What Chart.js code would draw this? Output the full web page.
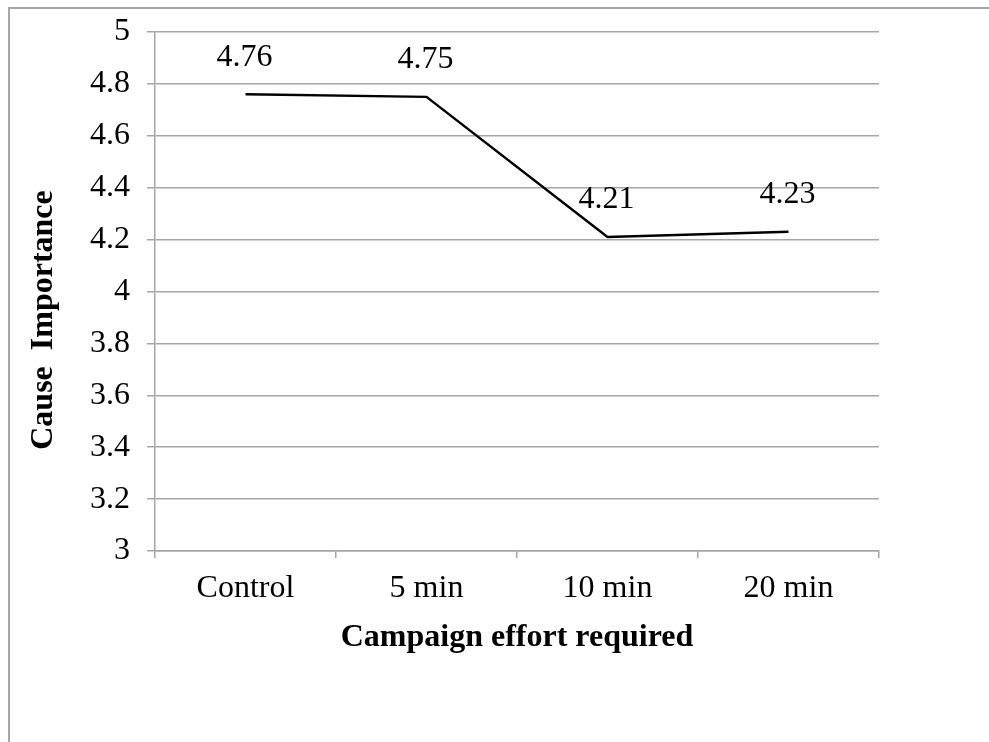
<!DOCTYPE html>
<html>
<head>
<meta charset="utf-8">
<script src="https://cdn.jsdelivr.net/npm/chart.js@4"></script>
<style>
  html, body { margin: 0; padding: 0; background: #fff; }
  #wrap { position: relative; width: 989px; height: 742px; overflow: hidden; }
  #frame { position: absolute; left: 8px; top: 7px; width: 1200px; height: 1000px; border-left: 2px solid #a6a6a6; border-top: 2px solid #a6a6a6; box-sizing: border-box; }
  canvas { position: absolute; left: 0; top: 0; }
</style>
</head>
<body>
<div id="wrap">
  <div id="frame"></div>
  <canvas id="chart" width="989" height="742"></canvas>
</div>
<script>
const categories = ['Control', '5 min', '10 min', '20 min'];
const importance = [4.76, 4.75, 4.21, 4.23];
const yMin = 3;
const yMax = 5;
const yStep = 0.2;
const yTitle = 'Cause  Importance';
const xTitle = 'Campaign effort required';

const FONT = '"Liberation Serif", "Times New Roman", serif';
const GRID = '#a6a6a6';

// labels above each point, Excel style
const valueLabels = {
  id: 'valueLabels',
  afterDatasetsDraw(chart) {
    const ctx = chart.ctx;
    const meta = chart.getDatasetMeta(0);
    ctx.save();
    ctx.font = `32px ${FONT}`;
    ctx.fillStyle = '#000';
    ctx.textAlign = 'center';
    ctx.textBaseline = 'middle';
    meta.data.forEach((pt, i) => {
      ctx.fillText(importance[i].toFixed(2), pt.x - 1, pt.y - 37);
    });
    ctx.restore();
  }
};

// y title sits a bit below the axis centre in the original
const yTitlePlugin = {
  id: 'yTitlePlugin',
  afterDraw(chart) {
    const ctx = chart.ctx;
    ctx.save();
    ctx.translate(44, 320);
    ctx.rotate(-Math.PI / 2);
    ctx.font = `bold 32px ${FONT}`;
    ctx.fillStyle = '#000';
    ctx.textAlign = 'center';
    ctx.textBaseline = 'middle';
    ctx.fillText(yTitle, 0, 0);
    ctx.restore();
  }
};

new Chart(document.getElementById('chart'), {
  type: 'line',
  data: {
    labels: categories,
    datasets: [{
      data: importance,
      borderColor: '#000',
      borderWidth: 2.5,
      pointRadius: 0,
      tension: 0,
      fill: false
    }]
  },
  options: {
    responsive: false,
    animation: false,
    devicePixelRatio: 1,
    layout: { padding: { left: 20, right: 110, top: 32, bottom: 81 } },
    plugins: { legend: { display: false }, tooltip: { enabled: false } },
    scales: {
      x: {
        offset: true,
        grid: { display: true, drawOnChartArea: false, drawTicks: true, offset: true, tickLength: 7, color: GRID, lineWidth: 1.5 },
        border: { display: true, color: GRID, width: 1.5 },
        ticks: { color: '#000', font: { family: FONT, size: 32 }, padding: 11, maxRotation: 0 },
        title: { display: true, text: xTitle, color: '#000', font: { family: FONT, size: 32, weight: 'bold' }, padding: { top: 4, bottom: 4 } },
        afterFit(scale) { scale.height = 110; scale.paddingLeft = 0; scale.paddingRight = 0; }
      },
      y: {
        min: yMin,
        max: yMax,
        grid: { color: GRID, lineWidth: 1.5, tickLength: 8 },
        border: { display: true, color: GRID, width: 1.5 },
        ticks: {
          stepSize: yStep,
          color: '#000',
          font: { family: FONT, size: 32 },
          padding: 17,
          callback: v => Math.round(v * 10) / 10
        },
        afterFit(scale) { scale.width = 135; scale.paddingTop = 0; scale.paddingBottom = 0; }
      }
    }
  },
  plugins: [valueLabels, yTitlePlugin]
});
</script>
</body>
</html>
